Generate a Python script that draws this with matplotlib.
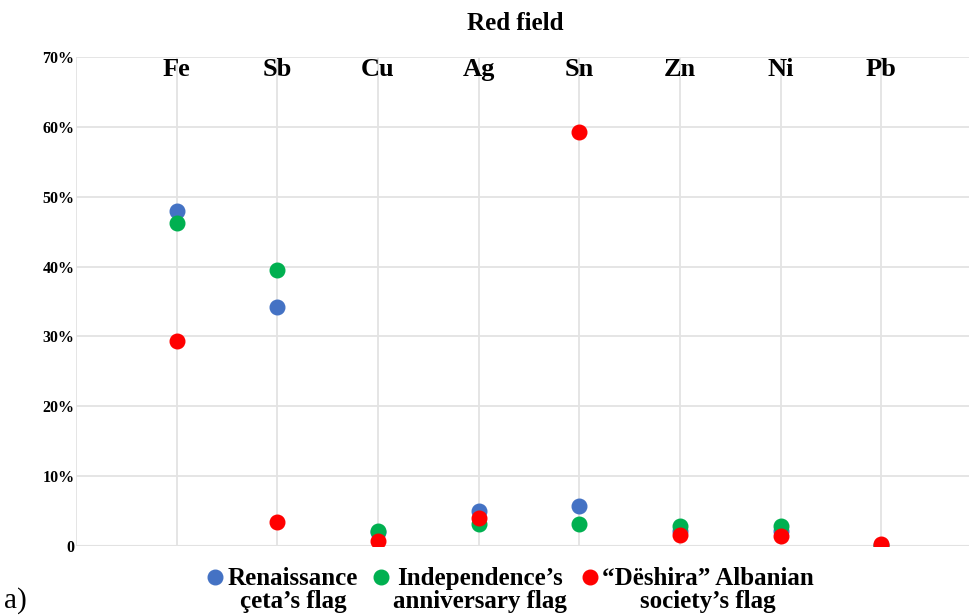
import matplotlib
matplotlib.use("Agg")
import matplotlib.pyplot as plt
from matplotlib.legend_handler import HandlerLine2D
import numpy as np

elements = ["Fe", "Sb", "Cu", "Ag", "Sn", "Zn", "Ni", "Pb"]
renaissance = [48.0, 34.2, 2.0, 5.0, 5.7, 2.2, 2.2, 0.2]
independence = [46.3, 39.5, 2.1, 3.2, 3.2, 2.8, 2.9, 0.0]
deshira = [29.3, 3.5, 0.7, 4.0, 59.2, 1.6, 1.4, 0.3]
series_labels = ["Renaissance\nçeta’s flag",
                 "Independence’s\nanniversary flag",
                 "“Dëshira” Albanian\nsociety’s flag"]
colors = ["#4472C4", "#00B050", "#FF0000"]
yticks = [0, 10, 20, 30, 40, 50, 60, 70]
ytick_labels = ["0", "10%", "20%", "30%", "40%", "50%", "60%", "70%"]

serif = ["Liberation Serif", "DejaVu Serif"]
plt.rcParams["font.family"] = serif

fig = plt.figure(figsize=(9.7, 6.15), dpi=100)
ax = fig.add_axes([76/970, 1-546/615, 1-76/970, (546-57)/615])

x = np.arange(1, len(elements) + 1)
for vals, lab, c in zip([renaissance, independence, deshira], series_labels, colors):
    ax.plot(x, vals, "o", ls="none", ms=10.5, color=c, label=lab, zorder=3)

ax.set_xlim(0, 8.88)
ax.set_ylim(0, 70)
ax.set_xticks(np.arange(0, 9))
ax.set_xticklabels([])
ax.set_yticks(yticks)
ax.set_yticklabels(ytick_labels, fontsize=11.5, fontweight="bold")
ax.tick_params(length=0, pad=1)
ax.grid(True, color="#e3e3e3", lw=1.3, zorder=0)
for s in ax.spines.values():
    s.set_visible(False)
ax.axhline(0, color="#d9d9d9", lw=1.5, zorder=1)

for xi, name in zip(x, elements):
    ax.text(xi, 68.2, name, ha="center", va="center", fontsize=19, fontweight="bold")

fig.text(515/970, 1-24/615, "Red field", ha="center", va="center", fontsize=18, fontweight="bold")
fig.text(4/970, 1-601/615, "a)", ha="left", va="center", fontsize=21)


class UpHandler(HandlerLine2D):
    def create_artists(self, legend, orig_handle, xdescent, ydescent, width, height, fontsize, trans):
        return super().create_artists(legend, orig_handle, xdescent, ydescent - 1.05 * fontsize,
                                      width, height, fontsize, trans)


handles, labels = ax.get_legend_handles_labels()
leg = fig.legend(handles, labels, loc="center", bbox_to_anchor=(511/970, 1-590/615), ncol=3,
                 frameon=False, prop={"family": serif, "weight": "bold", "size": 18},
                 handlelength=0.6, handletextpad=0.2, columnspacing=0.6,
                 handler_map={h: UpHandler() for h in handles}, borderpad=0, borderaxespad=0)
for t in leg.get_texts():
    t.set_multialignment("center")
    t.set_linespacing(1.0)

fig.savefig("out.png", dpi=100)
